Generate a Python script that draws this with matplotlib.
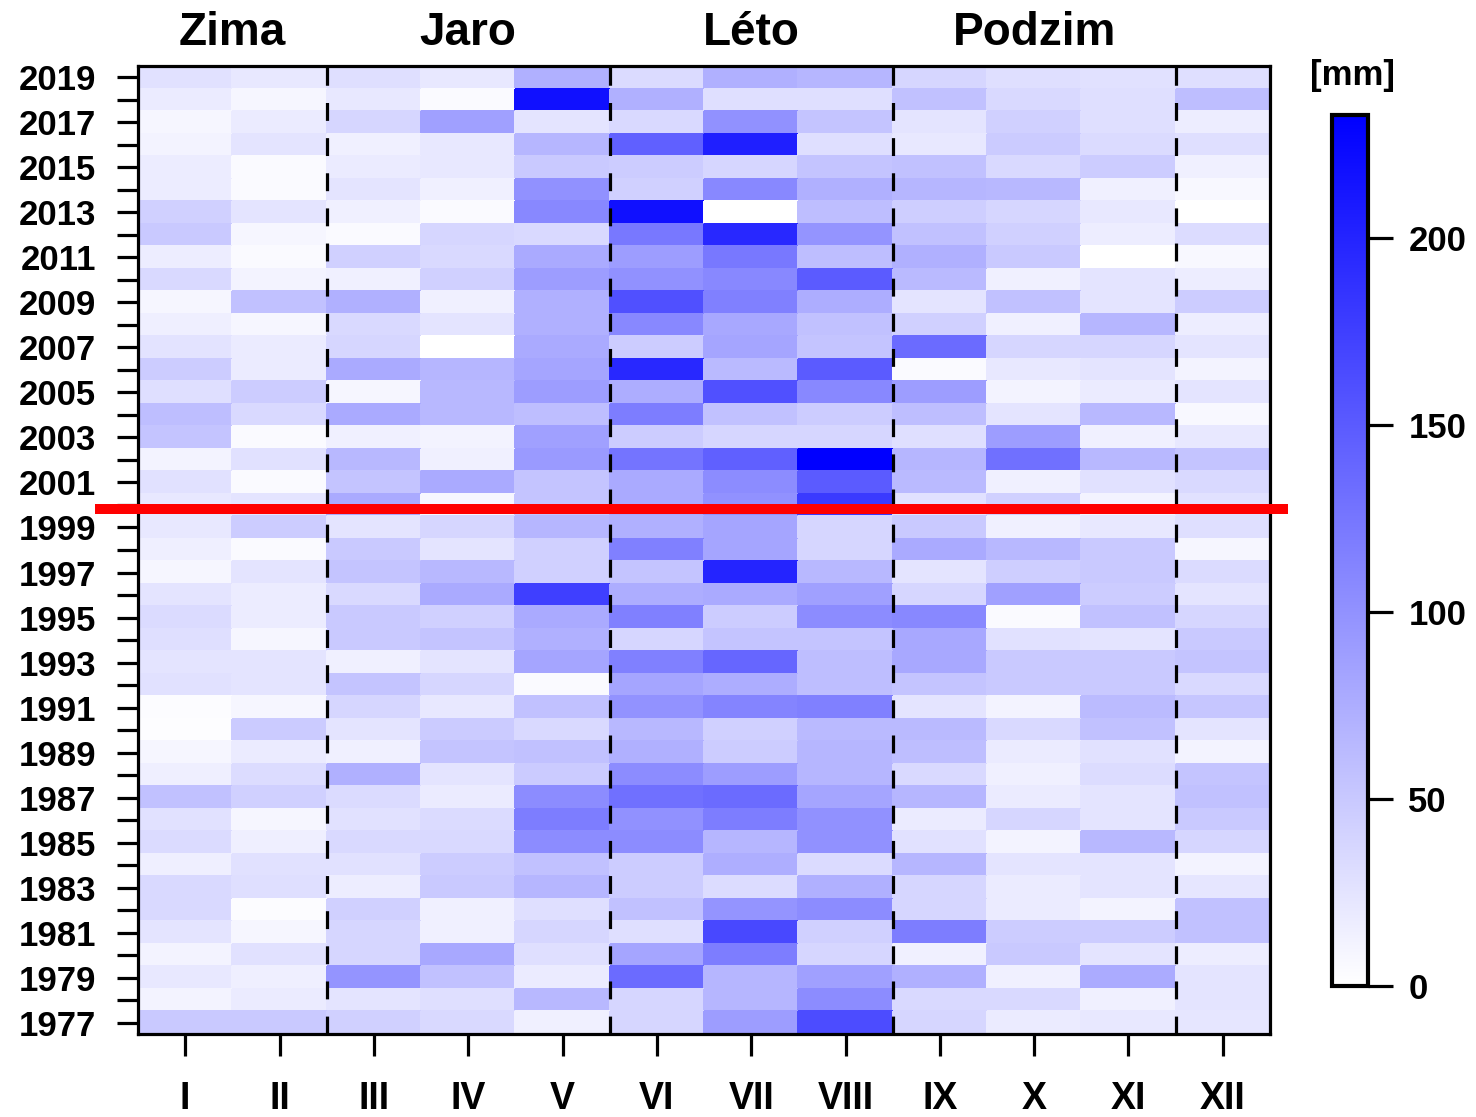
import numpy as np
import matplotlib
matplotlib.use("Agg")
import matplotlib.pyplot as plt
from matplotlib.colors import LinearSegmentedColormap, Normalize
import matplotlib.transforms as mtransforms

# ---- data (years listed from 2019 down to 1977) ----
years = list(range(2019, 1976, -1))
months = ["I", "II", "III", "IV", "V", "VI", "VII", "VIII", "IX", "X", "XI", "XII"]
seasons = ["Zima", "Jaro", "Léto", "Podzim"]
season_centers = [1.5, 4, 7, 10]
season_breaks = [2.5, 5.5, 8.5, 11.5]
colorbar_ticks = [0, 50, 100, 150, 200]
vmax = 233
marker_year = 1999.83

m_I = [28, 19, 9, 11, 18, 18, 43, 50, 17, 35, 9, 15, 26, 47, 30,
       60, 54, 11, 28, 21, 21, 15, 9, 25, 33, 30, 25, 28, 3,
       2, 9, 15, 57, 28, 33, 15, 35, 35, 25, 11, 21, 11, 50]
m_II = [21, 9, 19, 25, 5, 5, 25, 9, 5, 11, 57, 9, 19, 19, 47,
        35, 5, 28, 5, 25, 47, 5, 25, 18, 18, 9, 25, 25, 9,
        48, 19, 32, 43, 9, 15, 28, 30, 3, 9, 28, 15, 19, 50]
m_III = [30, 21, 38, 14, 19, 25, 14, 5, 43, 14, 72, 35, 38, 78, 9,
         78, 14, 65, 54, 78, 25, 50, 54, 35, 50, 50, 14, 54, 38,
         25, 14, 72, 33, 28, 35, 28, 17, 43, 38, 38, 98, 25, 43]
m_IV = [21, 5, 87, 21, 21, 14, 5, 38, 35, 43, 14, 25, 0, 67, 65,
        65, 11, 14, 78, 9, 38, 25, 65, 78, 43, 54, 25, 38, 21,
        48, 54, 25, 19, 33, 35, 47, 50, 14, 14, 80, 57, 30, 35]
m_V = [72, 218, 25, 67, 50, 101, 109, 35, 78, 90, 72, 72, 78, 82, 90,
       60, 87, 92, 54, 54, 67, 43, 43, 175, 78, 72, 82, 5, 57,
       35, 57, 48, 105, 119, 105, 57, 67, 30, 38, 30, 19, 65, 14]
m_VI = [33, 72, 35, 145, 47, 43, 218, 123, 90, 101, 160, 109, 47, 196, 75,
        119, 47, 127, 78, 78, 72, 116, 54, 75, 116, 38, 116, 82, 100,
        65, 72, 105, 131, 101, 105, 47, 47, 57, 30, 82, 135, 38, 38]
m_VII = [72, 30, 101, 204, 38, 109, 0, 196, 123, 109, 116, 80, 82, 63, 160,
         57, 38, 145, 105, 101, 82, 82, 200, 78, 47, 54, 140, 75, 112,
         43, 47, 90, 135, 119, 67, 74, 32, 98, 167, 119, 67, 67, 90]
m_VIII = [67, 30, 54, 30, 54, 72, 60, 98, 60, 150, 75, 57, 54, 150, 109,
          47, 38, 233, 150, 180, 38, 38, 65, 87, 105, 54, 60, 60, 116,
          63, 67, 67, 82, 101, 101, 33, 72, 105, 43, 38, 87, 105, 163]
m_IX = [38, 57, 25, 21, 57, 67, 45, 57, 72, 63, 25, 43, 135, 5, 90,
        60, 30, 67, 63, 28, 50, 78, 25, 38, 109, 80, 80, 54, 25,
        63, 60, 35, 67, 19, 28, 67, 38, 38, 119, 14, 72, 35, 38]
m_X = [30, 35, 43, 48, 35, 65, 38, 43, 50, 14, 57, 14, 38, 21, 11,
       25, 90, 131, 14, 43, 14, 65, 45, 87, 5, 28, 50, 50, 11,
       35, 19, 14, 19, 38, 11, 25, 19, 19, 47, 50, 14, 35, 19]
m_XI = [28, 30, 30, 33, 47, 14, 21, 17, 0, 25, 25, 67, 38, 25, 19,
        65, 14, 65, 28, 11, 21, 50, 50, 47, 57, 25, 50, 50, 62,
        57, 28, 32, 25, 25, 65, 25, 25, 11, 47, 25, 77, 14, 21]
m_XII = [30, 60, 17, 30, 14, 7, 0, 32, 7, 17, 47, 17, 25, 11, 25,
         7, 21, 54, 35, 28, 30, 9, 33, 25, 38, 50, 54, 35, 52,
         25, 11, 54, 57, 50, 38, 11, 23, 57, 57, 17, 25, 25, 23]

monthly = [m_I, m_II, m_III, m_IV, m_V, m_VI, m_VII, m_VIII, m_IX, m_X, m_XI, m_XII]

# ---- figure ----
plt.rcParams['font.family'] = ['Liberation Sans', 'DejaVu Sans']
plt.rcParams['font.weight'] = 'bold'

W, H = 1476, 1117
fig = plt.figure(figsize=(W / 100, H / 100), dpi=100)

def px_axes(l, t, r, b):
    return fig.add_axes([l / W, 1 - b / H, (r - l) / W, (b - t) / H])

ax = px_axes(138, 66, 1270, 1034)

Z = np.array(monthly).T  # rows: years (desc), cols: months
yr = np.array(years)
xedges = np.arange(0.5, len(months) + 1, 1.0)
yedges = np.concatenate([[yr[0] + 0.5], yr - 0.5])
cmap = LinearSegmentedColormap.from_list("wb", ["#ffffff", "#0000ff"])
norm = Normalize(vmin=0, vmax=vmax)
mesh = ax.pcolormesh(xedges, yedges, Z, cmap=cmap, norm=norm, edgecolors='face', linewidth=0.3)

ax.set_xlim(0.5, len(months) + 0.5)
ax.set_ylim(min(years) - 0.5, max(years) + 0.5)

for xb in season_breaks:
    ax.axvline(xb, color='black', lw=2.3, linestyle=(0, (5.6, 5.4)), zorder=3)

ax.set_xticks(range(1, len(months) + 1))
ax.set_xticklabels(months, fontsize=27, fontweight='bold')
ax.set_yticks(years)
ax.set_yticklabels([str(y) if y % 2 == 1 else "" for y in years], fontsize=25, fontweight='bold')
ax.tick_params(axis='y', length=15, width=2.3, pad=15)
ax.tick_params(axis='x', length=16, width=2.3, pad=18)
for sp in ax.spines.values():
    sp.set_linewidth(2.3)
    sp.set_zorder(5)

# season labels
trans = mtransforms.blended_transform_factory(ax.transData, fig.transFigure)
for name, xc in zip(seasons, season_centers):
    ax.text(xc, 1 - 33 / H, name, transform=trans, ha='center', va='center',
            fontsize=33, fontweight='bold')

# red horizontal marker line
trans_r = mtransforms.blended_transform_factory(ax.transAxes, ax.transData)
ax.plot([-0.038, 1.0159], [marker_year, marker_year], color='#ff0000', lw=7.2,
        transform=trans_r, clip_on=False, solid_capstyle='butt', zorder=6)

# colorbar
cax = px_axes(1332, 115, 1368, 986)
cb = fig.colorbar(mesh, cax=cax, ticks=colorbar_ticks)
cb.outline.set_linewidth(3)
cax.tick_params(length=18, width=2.3, pad=11, labelsize=25)
for lbl in cax.get_yticklabels():
    lbl.set_fontweight('bold')
fig.text(1352 / W, 1 - 75 / H, "[mm]", ha='center', va='center', fontsize=25, fontweight='bold')

fig.savefig("out.png", dpi=100)
